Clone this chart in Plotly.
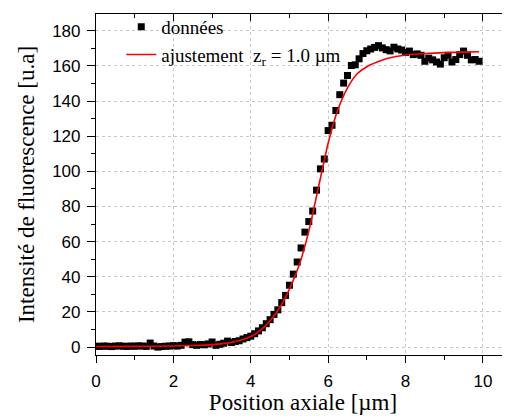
import plotly.graph_objects as go

# --- data ---
x_data = [0.0, 0.1, 0.2, 0.3, 0.4, 0.5, 0.6, 0.7, 0.8, 0.9,
          1.0, 1.1, 1.2, 1.3, 1.4, 1.5, 1.6, 1.7, 1.8, 1.9,
          2.0, 2.1, 2.2, 2.3, 2.4, 2.5, 2.6, 2.7, 2.8, 2.9,
          3.0, 3.1, 3.2, 3.3, 3.4, 3.5, 3.6, 3.7, 3.8, 3.9,
          4.0, 4.1, 4.2, 4.3, 4.4, 4.5, 4.6, 4.7, 4.8, 4.9,
          5.0, 5.1, 5.2, 5.3, 5.4, 5.5, 5.6, 5.7, 5.8, 5.9,
          6.0, 6.1, 6.2, 6.3, 6.4, 6.5, 6.6, 6.7, 6.8, 6.9,
          7.0, 7.1, 7.2, 7.3, 7.4, 7.5, 7.6, 7.7, 7.8, 7.9,
          8.0, 8.1, 8.2, 8.3, 8.4, 8.5, 8.6, 8.7, 8.8, 8.9,
          9.0, 9.1, 9.2, 9.3, 9.4, 9.5, 9.6, 9.7, 9.8, 9.9]
y_data = [0.5, 0.4, 0.6, 0.5, 0.3, 0.6, 0.7, 0.5, 0.4, 0.6,
          0.5, 0.7, 0.6, 0.4, 2.3, 0.6, 0.0, 0.3, 0.5, 0.6,
          0.8, 0.6, 1.0, 2.8, 3.0, 1.4, 1.0, 1.5, 1.3, 1.8,
          2.9, 1.0, 1.6, 2.2, 3.4, 2.6, 3.2, 3.6, 4.6, 5.4,
          6.2, 7.6, 9.2, 11.0, 13.3, 15.6, 18.6, 21.2, 25.3, 29.4,
          35.2, 41.5, 48.4, 56.4, 65.4, 71.4, 77.4, 89.3, 101.4, 107.0,
          123.2, 126.2, 134.6, 143.6, 150.2, 154.5, 160.2, 160.6, 164.0, 167.0,
          168.6, 169.6, 170.5, 171.5, 170.2, 169.2, 168.5, 170.6, 169.6, 169.0,
          167.6, 168.4, 166.4, 166.8, 166.0, 162.6, 164.4, 163.4, 162.2, 161.0,
          164.6, 166.0, 162.2, 163.6, 166.4, 168.4, 166.0, 163.4, 163.6, 162.6]

x_fit = [0.0, 1.0, 2.0, 2.5, 3.0, 3.5, 3.75, 4.0, 4.25, 4.5, 4.75, 5.0, 5.25,
         5.5, 5.75, 6.0, 6.25, 6.5, 6.75, 7.0, 7.25, 7.5, 7.75, 8.0, 8.5,
         9.0, 9.5, 9.9]
y_fit = [0.3, 0.4, 0.6, 0.9, 1.4, 2.7, 4.0, 6.0, 9.5, 15.0, 22.5, 33.0, 46.5,
         66.0, 91.0, 116.0, 135.0, 147.5, 155.5, 159.5, 162.0, 164.0, 165.3,
         166.2, 167.0, 167.5, 167.8, 168.0]

x_ticks = [0, 2, 4, 6, 8, 10]
y_ticks = [0, 20, 40, 60, 80, 100, 120, 140, 160, 180]

label_data = "données"
label_fit = "ajustement\u00a0\u00a0z<sub>r</sub>\u00a0= 1.0 µm"
x_title = "Position axiale [µm]"
y_title = "Intensité de fluorescence [u.a]"

serif = "Liberation Serif"
sans = "Liberation Sans"

fig = go.Figure()
fig.add_trace(go.Scatter(
    x=x_data, y=y_data, mode="markers", name=label_data,
    marker=dict(symbol="square", size=7, color="black"),
))
fig.add_trace(go.Scatter(
    x=x_fit, y=y_fit, mode="lines", name=label_fit,
    line=dict(color="#ff0000", width=1.6, shape="spline", smoothing=0.6),
))
# invisible trace on the top axis to show inward ticks there
fig.add_trace(go.Scatter(x=[x_data[0]], y=[y_data[0]], xaxis="x2",
                         mode="markers", marker=dict(opacity=0),
                         showlegend=False, hoverinfo="skip"))

xr = [0, 10.7]
yr = [-4.5, 189.5]

# the page body adds an 8 px offset, so the figure is 8 px smaller
fig.update_layout(
    width=502, height=411,
    margin=dict(l=88, r=0, t=2, b=64),
    paper_bgcolor="white", plot_bgcolor="white",
    showlegend=True,
    legend=dict(x=0.061, y=1.019, xanchor="left", yanchor="top",
                bgcolor="rgba(0,0,0,0)", borderwidth=0,
                font=dict(family=serif, size=19, color="black"),
                tracegroupgap=0, itemsizing="trace"),
    xaxis=dict(
        range=xr, tickvals=x_ticks, ticks="outside", ticklen=7, tickwidth=1,
        tickcolor="black", showline=True, linecolor="black", linewidth=1.2,
        showgrid=True, gridcolor="#c8c8c8", griddash="dot", gridwidth=1,
        zeroline=False, automargin=False, ticklabelstandoff=3,
        minor=dict(dtick=1, tick0=0, ticks="outside", ticklen=4,
                   tickcolor="black", showgrid=False),
        tickfont=dict(family=sans, size=17, color="black"),
        title=dict(text=x_title, font=dict(family=serif, size=23, color="black"),
                   standoff=4),
    ),
    xaxis2=dict(
        range=xr, tickvals=x_ticks, overlaying="x", side="top",
        ticks="inside", ticklen=7, tickcolor="black", showticklabels=False,
        showline=True, linecolor="black", linewidth=1.2, showgrid=False,
        zeroline=False, automargin=False,
        minor=dict(dtick=1, tick0=0, ticks="inside", ticklen=4,
                   tickcolor="black", showgrid=False),
    ),
    yaxis=dict(
        range=yr, tickvals=y_ticks, ticks="outside", ticklen=8, tickwidth=1,
        tickcolor="black", showline=True, linecolor="black", linewidth=1.2,
        showgrid=True, gridcolor="#c8c8c8", griddash="dot", gridwidth=1,
        zeroline=False, automargin=False, ticklabelstandoff=3,
        minor=dict(dtick=10, tick0=0, ticks="outside", ticklen=4,
                   tickcolor="black", showgrid=False),
        tickfont=dict(family=sans, size=17, color="black"),
        title=dict(text=y_title, font=dict(family=serif, size=23, color="black"),
                   standoff=11),
    ),
)

fig.write_html("out.html")
